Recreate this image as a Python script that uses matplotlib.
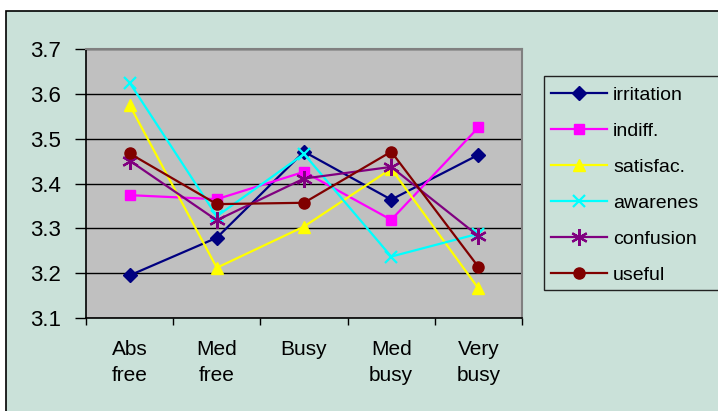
import matplotlib

matplotlib.use("Agg")

from matplotlib import pyplot as plt  # noqa: E402
from matplotlib.patches import Rectangle  # noqa: E402

categories = ["Abs\nfree", "Med\nfree", "Busy", "Med\nbusy", "Very\nbusy"]

irritation = [3.195, 3.279, 3.471, 3.364, 3.464]
indiff = [3.374, 3.365, 3.426, 3.319, 3.525]
satisfac = [3.575, 3.212, 3.304, 3.433, 3.166]
awarenes = [3.625, 3.327, 3.466, 3.237, 3.288]
confusion = [3.451, 3.318, 3.411, 3.437, 3.283]
useful = [3.467, 3.354, 3.357, 3.471, 3.214]

y_ticks = [3.1, 3.2, 3.3, 3.4, 3.5, 3.6, 3.7]

series = [
    ("irritation", irritation, "#000080", "D", 7),
    ("indiff.", indiff, "#FF00FF", "s", 7),
    ("satisfac.", satisfac, "#FFFF00", "^", 9),
    ("awarenes", awarenes, "#00FFFF", "x", 9),
    ("confusion", confusion, "#800080", (6, 2, 0), 12),
    ("useful", useful, "#800000", "o", 8),
]

BG = "#CAE1D9"
W, H = 718, 411

plt.rcParams["font.family"] = ["Liberation Sans", "DejaVu Sans"]

fig = plt.figure(figsize=(W / 100, H / 100), dpi=100, facecolor="white")

# chart area with its black border; it runs off the right and bottom edges
fig.patches.append(
    Rectangle((5.5 / W, -0.2), 1.2, (H - 10.5) / H + 0.2, transform=fig.transFigure,
              facecolor=BG, edgecolor="black", linewidth=1.2, zorder=-2)
)
# legend box, also cut by the right edge
fig.patches.append(
    Rectangle((544 / W, 1 - 290 / H), 0.5, (290 - 76) / H, transform=fig.transFigure,
              facecolor=BG, edgecolor="#222222", linewidth=1.0, zorder=-1)
)

ax = fig.add_axes([86 / W, 1 - 318 / H, (522 - 86) / W, (318 - 49) / H])
ax.set_zorder(2)
ax.set_facecolor("#C0C0C0")

x = list(range(len(categories)))
for name, values, color, marker, size in series:
    ax.plot(x, values, color=color, linewidth=1.6, marker=marker, markersize=size,
            markeredgewidth=1.6 if marker in ("x", (6, 2, 0)) else 1.0,
            markeredgecolor=color, markerfacecolor=color, label=name, clip_on=False,
            zorder=3)

ax.set_ylim(3.1, 3.7)
ax.set_yticks(y_ticks)
ax.set_yticklabels([f"{v:.1f}" for v in y_ticks])
ax.yaxis.grid(True, color="black", linewidth=1.0)
ax.set_axisbelow(True)

ax.set_xlim(-0.5, len(categories) - 0.5)
ax.set_xticks([i - 0.5 for i in range(len(categories) + 1)])
ax.set_xticklabels([])
ax.set_xticks(x, minor=True)
ax.set_xticklabels(categories, minor=True, fontsize=15, linespacing=1.45, va="top")

ax.tick_params(axis="y", direction="out", length=8, width=1, labelsize=16, pad=10)
ax.tick_params(axis="x", which="major", direction="out", length=5, width=1)
ax.tick_params(axis="x", which="minor", length=0, pad=16)

for side in ("top", "right"):
    ax.spines[side].set_color("#808080")
    ax.spines[side].set_linewidth(1.5)
for side in ("left", "bottom"):
    ax.spines[side].set_color("black")
    ax.spines[side].set_linewidth(1.2)

handles, labels = ax.get_legend_handles_labels()
leg = fig.legend(handles, labels, loc="upper left", bbox_to_anchor=(547 / W, 1 - 82 / H),
                 frameon=False, fontsize=14, handlelength=2.9, handletextpad=0.3,
                 labelspacing=0.95, borderaxespad=0, borderpad=0.2)
for line in leg.get_lines():
    line.set_linewidth(1.6)

fig.savefig("out.png", dpi=100, facecolor=fig.get_facecolor())
